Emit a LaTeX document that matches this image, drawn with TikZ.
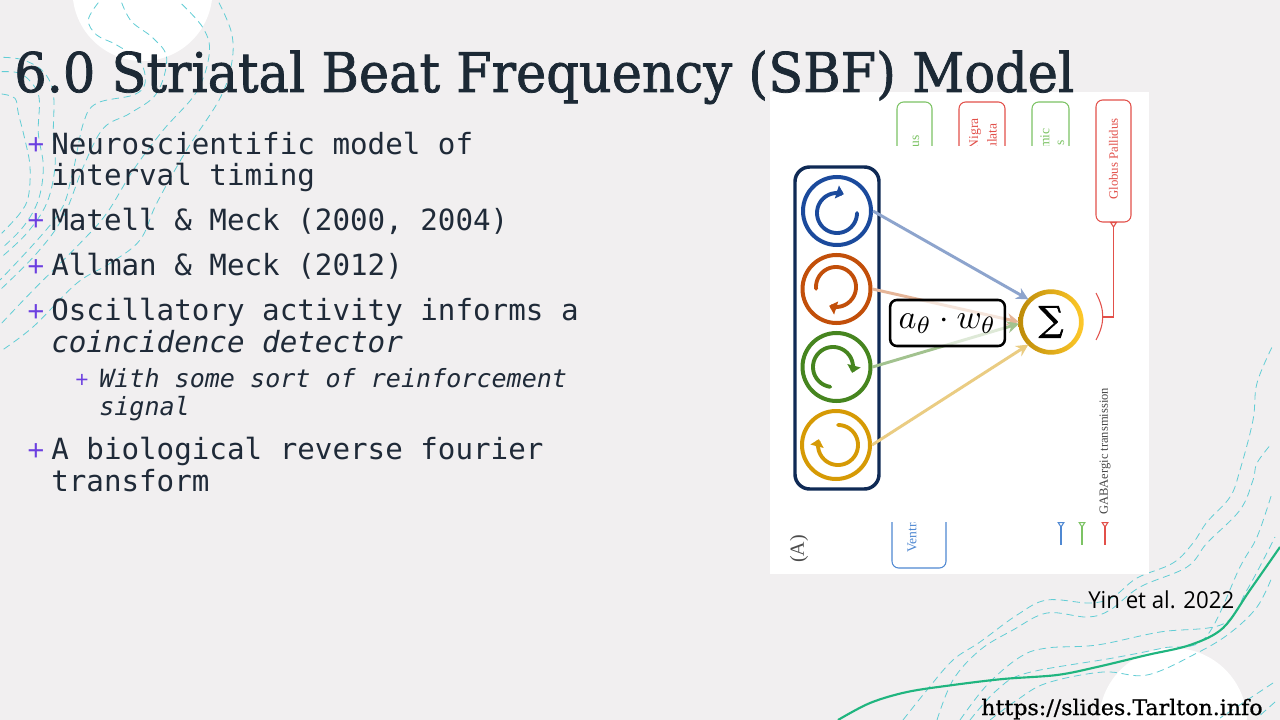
\documentclass[tikz,border=0pt]{standalone}
\usepackage{fontspec}
\usepackage{graphicx}
\usetikzlibrary{arrows.meta}
\newfontfamily\slabfont[FakeBold=1.4]{DejaVu Serif}
\newfontfamily\urlfont[FakeBold=0.8]{DejaVu Serif}
\newfontfamily\sigmafont[FakeBold=2]{DejaVu Serif}
\newfontfamily\monofam{DejaVu Sans Mono}
\newfontfamily\figfont{Liberation Serif}
\newfontfamily\capfont{Open Sans}
\newfontfamily\plusfont{Liberation Sans}
\definecolor{bgc}{HTML}{F1EFF0}
\definecolor{dashc}{HTML}{62CDD5}
\definecolor{greenc}{HTML}{20B57F}
\definecolor{inkc}{HTML}{1F2A38}
\definecolor{titlec}{HTML}{1C2935}
\definecolor{plusc}{HTML}{6C3FE0}
\definecolor{navyc}{HTML}{0F2A55}
\definecolor{obl}{HTML}{1B4A9C}
\definecolor{oor}{HTML}{C24F0A}
\definecolor{ogr}{HTML}{46851F}
\definecolor{ogo}{HTML}{D69A05}
\definecolor{sumdark}{HTML}{BC8A08}
\definecolor{sumlight}{HTML}{FFC92A}
\definecolor{fgreen}{HTML}{7CC364}
\definecolor{fred}{HTML}{E2504A}
\definecolor{fblue}{HTML}{4F88D2}
\tikzset{
  bgdash/.style={draw=dashc,line width=0.6pt,dash pattern=on 5.5pt off 3.5pt},
  bodyline/.style={anchor=base west,inner sep=0pt,text=inkc,font=\monofam\fontsize{21.9}{24}\selectfont},
  subline/.style={anchor=base west,inner sep=0pt,text=inkc,font=\monofam\itshape\fontsize{18.8}{22}\selectfont},
  plusbig/.style={anchor=base,inner sep=0pt,text=plusc,font=\plusfont\fontsize{22}{22}\selectfont},
  plussmall/.style={anchor=base,inner sep=0pt,text=plusc,font=\plusfont\fontsize{17}{17}\selectfont},
  osc/.style={circle,draw=#1,line width=3pt,minimum size=51pt,inner sep=0pt},
  oarc/.style={draw=#1,line width=2.9pt,line cap=round,-{Triangle[length=5.5pt,width=10pt]}},
  link/.style={draw=#1,line width=2.2pt,-{Stealth[length=9pt,width=9pt]}},
  figbox/.style={draw=#1,line width=0.8pt,rounded corners=5pt},
  figlab/.style={rotate=90,anchor=east,inner sep=0pt,text=#1,font=\figfont\fontsize{10.2}{11}\selectfont},
  tiptri/.style={draw=#1,line width=0.8pt,{Triangle[open,reversed,length=4.5pt,width=5.5pt]}-},
}
\begin{document}
\begin{tikzpicture}[x=0.75pt,y=-0.75pt]
\useasboundingbox (0,0) rectangle (1280,720);
\fill[bgc] (0,0) rectangle (1280,720);
% white discs
\fill[white] (142.5,-9) circle (70);
\fill[white] (1173,722) circle (74);
% top-left contour lines (in units of a third of a pixel)
\begin{scope}[x=0.25pt,y=-0.25pt]
\draw[bgdash] plot[smooth,tension=.6] coordinates {(5,282)(45,295)(55,340)(75,420)(90,500)(85,590)(60,640)(5,700)};
\draw[bgdash] plot[smooth,tension=.6] coordinates {(5,215)(60,220)(100,255)(118,300)(115,400)(130,500)(115,600)(70,680)(5,745)};
\draw[bgdash] plot[smooth,tension=.6] coordinates {(10,172)(70,180)(130,215)(160,280)(160,400)(165,500)(140,610)(80,700)(0,775)};
\draw[bgdash] plot[smooth,tension=.6] coordinates {(295,8)(265,60)(290,105)(350,135)(420,185)(435,250)(400,285)(290,310)(250,370)(215,530)(170,650)(0,840)};
\draw[bgdash] plot[smooth,tension=.6] coordinates {(365,8)(395,65)(460,115)(500,175)(470,280)(390,340)(310,385)(250,500)(190,650)(110,760)(0,870)};
\draw[bgdash] plot[smooth,tension=.6] coordinates {(545,12)(610,85)(628,160)(590,275)(490,390)(400,510)(320,640)(240,730)(100,870)(0,975)};
\draw[bgdash] plot[smooth,tension=.6] coordinates {(657,8)(695,100)(695,190)(660,295)(560,450)(470,610)(420,720)(330,790)(230,850)(100,980)(0,1055)};
\end{scope}
% bottom-right contour lines
\draw[bgdash] plot[smooth,tension=.6] coordinates {(903,720)(927,690)(953,660)(980,642)(1017,615)(1047,600)(1090,603)(1113,597)(1137,578)(1173,563)(1193,543)(1207,522)(1230,497)(1240,470)(1253,420)(1257,383)(1273,345)};
\draw[bgdash] plot[smooth,tension=.6] coordinates {(937,720)(953,680)(980,650)(1013,630)(1047,613)(1087,617)(1110,610)(1140,587)(1187,567)(1207,543)(1240,510)(1253,480)(1257,463)(1272,443)};
\draw[bgdash] plot[smooth,tension=.6] coordinates {(960,720)(987,685)(1020,657)(1047,648)(1097,645)(1160,632)(1223,624)(1247,590)(1275,537)};
\draw[bgdash] plot[smooth,tension=.6] coordinates {(970,720)(997,690)(1027,673)(1113,658)(1163,648)(1205,638)(1240,567)(1257,537)(1272,493)};
\draw[bgdash] plot[smooth,tension=.6] coordinates {(990,720)(1017,700)(1047,683)(1103,672)(1147,675)(1197,653)(1230,633)(1257,607)(1272,577)};
\draw[bgdash] (1273,683) -- (1220,718);
\draw[bgdash] (1275,702) -- (1257,718);
% green line
\draw[greenc,line width=1.6pt] plot[smooth,tension=.55] coordinates {(838,720)(870,703)(907,692)(953,685)(1003,679)(1057,675)(1097,667)(1147,655)(1190,645)(1223,628)(1250,590)(1280,547)};
% figure panel
\fill[white] (770,92) rectangle (1149,574);
\begin{scope}
\clip (880,95) rectangle (1085,146);
\draw[figbox=fgreen] (897,102) rectangle (932,170);
\draw[figbox=fred] (959,102) rectangle (1005,170);
\draw[figbox=fgreen] (1032,102) rectangle (1069,170);
\node[figlab=fgreen] (us) at (916,135) {us};
\node[figlab=fred] (nigra) at (975,118) {Nigra};
\node[figlab=fred] (ulata) at (992,123) {ulata};
\node[figlab=fgreen] (mic) at (1045,128) {mic};
\node[figlab=fgreen] (s) at (1061,140) {s};
\end{scope}
\node[draw=fred,line width=0.8pt,rounded corners=5pt,minimum width=26.25pt,minimum height=91.5pt,inner sep=0pt,outer sep=0pt] (gp) at (1113.5,161) {};
\node[rotate=90,inner sep=0pt,text=fred,font=\figfont\fontsize{9.6}{10}\selectfont] (gplab) at (1113.5,159) {Globus Pallidus};
\coordinate (gpjoin) at (1103,317);
\draw[tiptri=fred] (gp.south) |- (gpjoin);
\coordinate (gparcA) at (1096,293);
\coordinate (gparcB) at (1096,340);
\draw[fred,line width=0.8pt] (gparcA) .. controls (1105,310) and (1105,323) .. (gparcB);
% clipped bottom box
\begin{scope}
\clip (880,522) rectangle (960,575);
\draw[figbox=fblue] (892,490) rectangle (946,568);
\node[rotate=90,anchor=west,inner sep=0pt,text=fblue,font=\figfont\fontsize{10.2}{11}\selectfont] (ventra) at (912,553) {Ventra};
\end{scope}
% markers
\coordinate (mAt) at (1061,522);\coordinate (mAb) at (1061,545);
\coordinate (mBt) at (1082,522);\coordinate (mBb) at (1082,545);
\coordinate (mCt) at (1105,522);\coordinate (mCb) at (1105,545);
\draw[tiptri=fblue] (mAt) -- (mAb);
\draw[tiptri=fgreen] (mBt) -- (mBb);
\draw[tiptri=fred] (mCt) -- (mCb);
\node[rotate=90,anchor=west,inner sep=0pt,text=black!72,font=\figfont\fontsize{9.4}{10}\selectfont] (gaba) at (1105,515) {GABAergic transmission};
\node[rotate=90,inner sep=0pt,text=black!70,font=\figfont\fontsize{15}{15}\selectfont] (A) at (799,549) {(A)};
% oscillator column
\node[draw=navyc,line width=2.6pt,rounded corners=11pt,minimum width=63pt,minimum height=241.5pt,inner sep=0pt] (column) at (837,328) {};
\node[osc=obl] (o1) at (837,211) {};
\node[osc=oor] (o2) at (836.5,289) {};
\node[osc=ogr] (o3) at (836.5,367) {};
\node[osc=ogo] (o4) at (836,445) {};
\draw[oarc=obl] plot[domain=0:290,samples=60] ({837+20*cos(\x)},{213+20*sin(\x)});
\draw[oarc=oor] plot[domain=175:470,samples=60] ({836+20*cos(\x)},{287+20*sin(\x)});
\draw[oarc=ogr] plot[domain=98:377,samples=60] ({833+20*cos(\x)},{367+20*sin(\x)});
\draw[oarc=ogo] plot[domain=-90:197,samples=60] ({838+20*cos(\x)},{445+20*sin(\x)});
% summation
\node[circle,minimum size=48pt,inner sep=0pt,outer sep=0pt,text=black,font=\sigmafont\fontsize{26}{26}\selectfont] (sum) at (1051,322) {∑};
\path[left color=sumdark,right color=sumlight,even odd rule] (sum.center) circle (24.5pt) circle (21pt);
% connectors
\draw[link=obl!50!white] (o1.east) -- (sum.135);
\draw[link=oor!42!white] (o2.east) -- (sum.180);
\draw[link=ogr!50!white] (o3.east) -- (sum.183);
\draw[link=ogo!50!white] (o4.east) -- (sum.225);
% weight box
\node[draw=black,fill=white,fill opacity=.65,text opacity=1,line width=1.9pt,rounded corners=5pt,minimum width=86pt,minimum height=34.5pt,inner sep=0pt] (weight) at (947.5,323) {\raisebox{-1.5pt}{\scalebox{2.55}{$a_{\theta}\cdot w_{\theta}$}}};
% title
\node[anchor=base west,inner sep=0pt,text=titlec] (title) at (14,92) {\resizebox{795pt}{\height}{\slabfont\fontsize{41}{41}\selectfont 6.0 Striatal Beat Frequency (SBF) Model}};
% bullets
\node[plusbig] (p1) at (36,155) {+};
\node[bodyline] (l1) at (51,155) {Neuroscientific model of};
\node[bodyline] (l2) at (51,186) {interval timing};
\node[plusbig] (p2) at (36,231) {+};
\node[bodyline] (l3) at (51,230) {Matell \& Meck (2000, 2004)};
\node[plusbig] (p3) at (36,276) {+};
\node[bodyline] (l4) at (51,275) {Allman \& Meck (2012)};
\node[plusbig] (p4) at (36,321) {+};
\node[bodyline] (l5) at (51,320) {Oscillatory activity informs a};
\node[bodyline,font=\monofam\itshape\fontsize{21.9}{24}\selectfont] (l6) at (51,352) {coincidence detector};
\node[plussmall] (p5) at (82,387) {+};
\node[subline] (l7) at (99,387) {With some sort of reinforcement};
\node[subline] (l8) at (99,415) {signal};
\node[plusbig] (p6) at (36,460) {+};
\node[bodyline] (l9) at (51,459) {A biological reverse fourier};
\node[bodyline] (l10) at (51,491) {transform};
% captions
\node[anchor=base west,inner sep=0pt,text=black] (yin) at (1088,608) {\resizebox{109.5pt}{\height}{\capfont\fontsize{17.5}{18}\selectfont Yin et al. 2022}};
\node[anchor=base west,inner sep=0pt,text=black] (url) at (981,715) {\resizebox{211pt}{\height}{\urlfont\fontsize{16}{16}\selectfont https://slides.Tarlton.info}};
\end{tikzpicture}
\end{document}
